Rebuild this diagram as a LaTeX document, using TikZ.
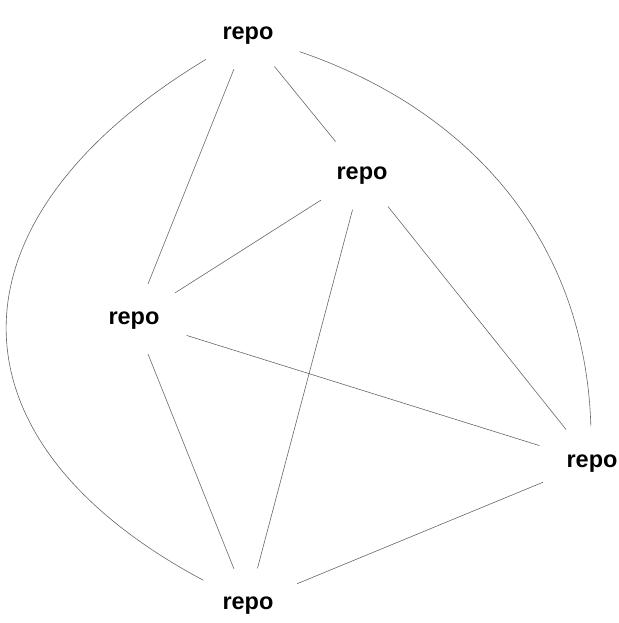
\documentclass[tikz,border=0pt]{standalone}
\usepackage{fontspec}
\setmainfont{Liberation Sans}
\usetikzlibrary{shapes.geometric}
\begin{document}
\begin{tikzpicture}[x=1pt,y=-1pt,
  repobox/.style={ellipse,minimum width=118pt,minimum height=72pt,inner sep=0pt,
    text height=14.4pt,text depth=3pt,
    font=\fontsize{23.5}{28}\selectfont\bfseries},
  link/.style={draw=black!60,line width=0.6pt}]
\useasboundingbox (0,0) rectangle (618,623);
\node[repobox] (A) at (248,34) {repo};
\node[repobox] (B) at (362,174) {repo};
\node[repobox] (C) at (134,319) {repo};
\node[repobox] (D) at (592,462) {repo};
\node[repobox] (E) at (248,604) {repo};
\draw[link] (A) -- (B);
\draw[link] (A) -- (C);
\draw[link] (A) .. controls (-60,220) and (-60,440) .. (E);
\draw[link] (A) .. controls (470,110) and (585,240) .. (D);
\draw[link] (B) -- (C);
\draw[link] (B) -- (D);
\draw[link] (B) -- (E);
\draw[link] (C) -- (D);
\draw[link] (C) -- (E);
\draw[link] (D) -- (E);
\end{tikzpicture}
\end{document}
